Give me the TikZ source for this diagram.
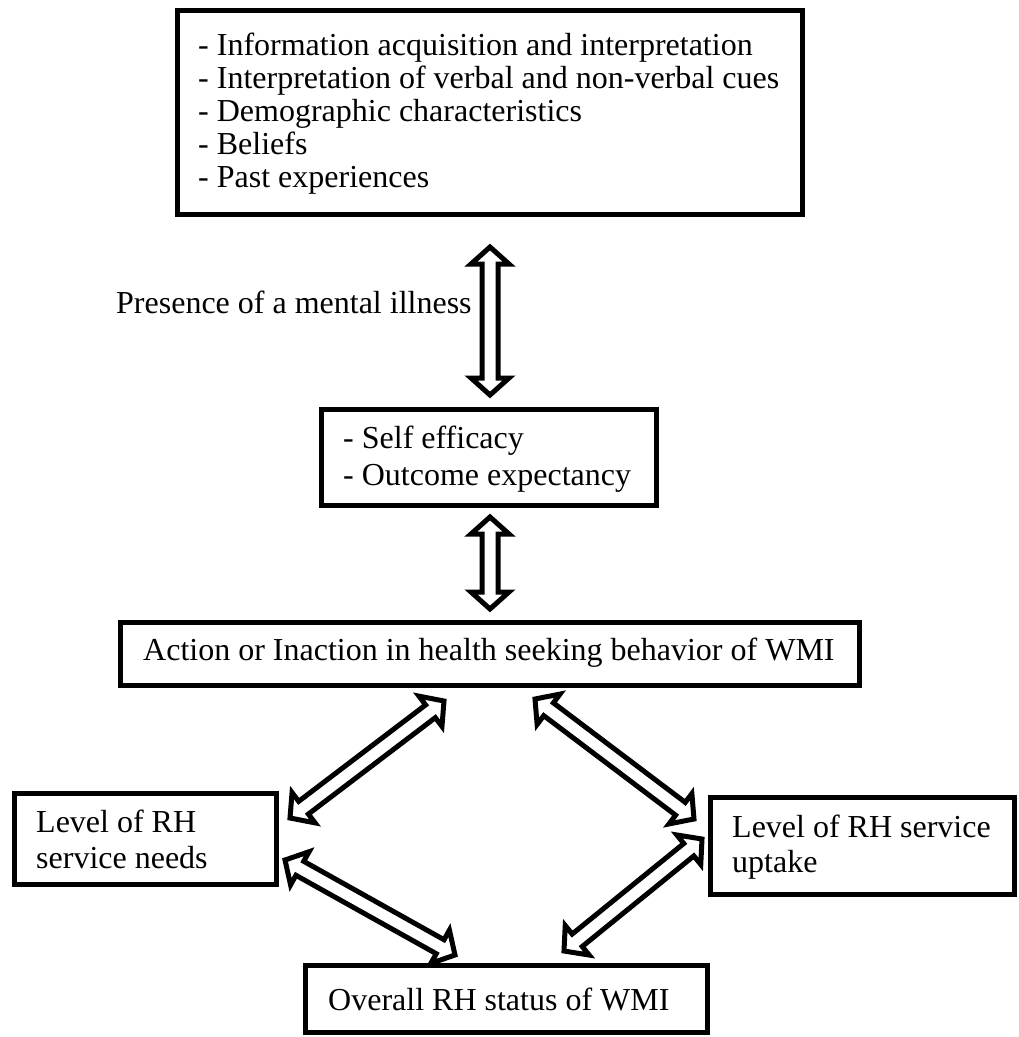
\documentclass[tikz,border=0pt]{standalone}
\usepackage{fontspec}
\setmainfont{Liberation Serif}
\usetikzlibrary{calc}
\newcommand\arrHL{17pt}
\newcommand\arrHW{19pt}
\newcommand\arrSW{8pt}
\newcommand\biarrow[2]{%
  \coordinate (hA) at ($(#1)!\arrHL!(#2)$);
  \coordinate (hB) at ($(#2)!\arrHL!(#1)$);
  \draw[blockarr] (#1) -- ($(hA)!\arrHW!90:(#1)$) -- ($(hA)!\arrSW!90:(#1)$)
    -- ($(hB)!\arrSW!-90:(#2)$) -- ($(hB)!\arrHW!-90:(#2)$) -- (#2)
    -- ($(hB)!\arrHW!90:(#2)$) -- ($(hB)!\arrSW!90:(#2)$)
    -- ($(hA)!\arrSW!-90:(#1)$) -- ($(hA)!\arrHW!-90:(#1)$) -- cycle;
}
\begin{document}
\begin{tikzpicture}[x=1pt,y=-1pt,
  font=\fontsize{32}{36}\selectfont,
  box/.style={draw, line width=5pt, inner sep=0pt, rectangle},
  txt/.style={anchor=base west, inner sep=0pt},
  blockarr/.style={draw, fill=white, line width=5pt, line join=miter, miter limit=10}]
\useasboundingbox (0,0) rectangle (1019,1037);

% boxes
\node[box, minimum width=625pt, minimum height=204pt] (top) at (490,112.5) {};
\node[box, minimum width=335pt, minimum height=96pt] (mid) at (489,457.5) {};
\node[box, minimum width=739pt, minimum height=63pt] (act) at (490,654) {};
\node[box, minimum width=262pt, minimum height=91pt] (needs) at (145.5,839) {};
\node[box, minimum width=304pt, minimum height=97pt] (uptake) at (862.5,846) {};
\node[box, minimum width=402pt, minimum height=67pt] (status) at (506.5,999) {};

% texts
\node[txt] (t1) at (198,55) {- Information acquisition and interpretation};
\node[txt] (t2) at (198,88) {- Interpretation of verbal and non-verbal cues};
\node[txt] (t3) at (198,121) {- Demographic characteristics};
\node[txt] (t4) at (198,154) {- Beliefs};
\node[txt] (t5) at (198,187) {- Past experiences};
\node[txt] (pres) at (116,313) {Presence of a mental illness};
\node[txt] (m1) at (343,448) {- Self efficacy};
\node[txt] (m2) at (343,485) {- Outcome expectancy};
\node[txt] (a1) at (143,660) {Action or Inaction in health seeking behavior of WMI};
\node[txt] (n1) at (36,832) {Level of RH};
\node[txt] (n2) at (36,868) {service needs};
\node[txt] (u1) at (732,837) {Level of RH service};
\node[txt] (u2) at (732,872) {uptake};
\node[txt] (s1) at (328,1010) {Overall RH status of WMI};

% arrow end points
\coordinate (p1a) at (490,247);
\coordinate (p1b) at (490,395);
\coordinate (p2a) at (490,517);
\coordinate (p2b) at (490,609);
\coordinate (p3a) at (444,701);
\coordinate (p3b) at (290,818);
\coordinate (p4a) at (285,860);
\coordinate (p4b) at (455,955);
\coordinate (p5a) at (535,699);
\coordinate (p5b) at (694,819);
\coordinate (p6a) at (702,839);
\coordinate (p6b) at (564,951);

\biarrow{p1a}{p1b}
\biarrow{p2a}{p2b}
\biarrow{p3a}{p3b}
\biarrow{p4a}{p4b}
\biarrow{p5a}{p5b}
\biarrow{p6a}{p6b}
\end{tikzpicture}
\end{document}
